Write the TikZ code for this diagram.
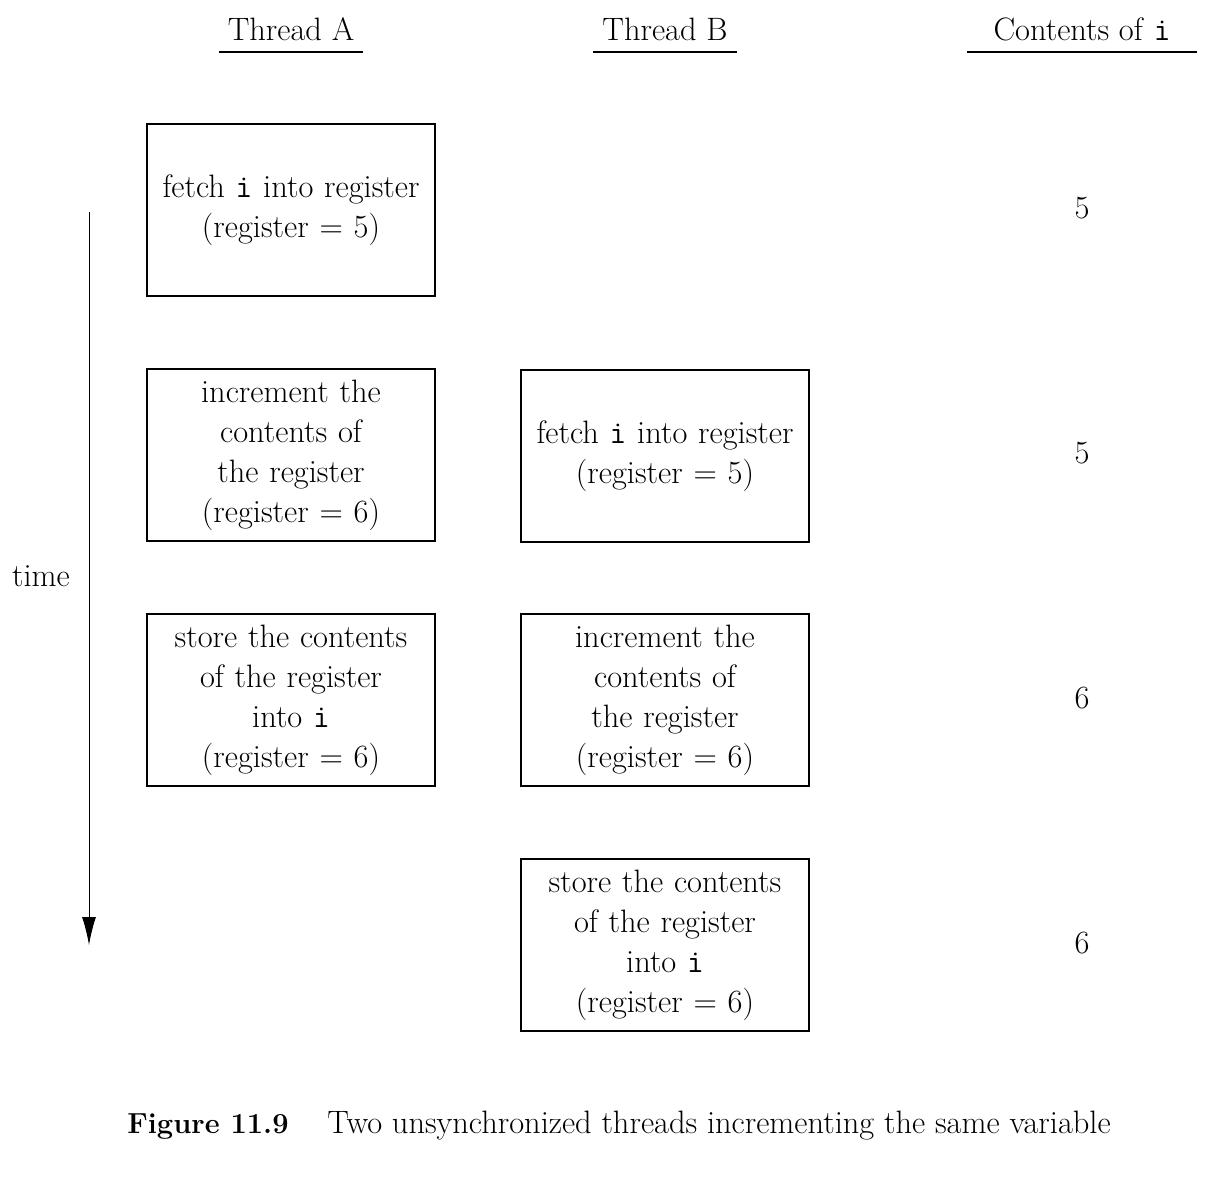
\documentclass[tikz,border=0pt]{standalone}
\usetikzlibrary{arrows.meta}
\begin{document}
\begin{tikzpicture}[x=0.5pt, y=-0.5pt,
   every node/.style={font=\fontsize{16.2}{20}\selectfont},
   stepbox/.style={draw, line width=0.6pt, minimum width=144pt, minimum height=86pt,
                   inner sep=0pt, text width=142pt, align=center},
   head/.style={anchor=base}]
\useasboundingbox (0,0) rectangle (1217,1185);

% column heads
\node[head] (headA) at (291,40) {Thread A};
\node[head] (headB) at (665,40) {Thread B};
\node[head] (headI) at (1082,40) {Contents of \texttt{i}};
\draw[line width=0.6pt] (219,52) -- (363,52);
\draw[line width=0.6pt] (593,52) -- (737,52);
\draw[line width=0.6pt] (967,52) -- (1197,52);

% thread A
\node[stepbox] (a1) at (291,210) {fetch \texttt{i} into register\\(register = 5)};
\node[stepbox] (a2) at (291,455) {increment the\\contents of\\the register\\(register = 6)};
\node[stepbox] (a3) at (291,700) {store the contents\\of the register\\into \texttt{i}\\(register = 6)};

% thread B
\node[stepbox] (b1) at (665,456) {fetch \texttt{i} into register\\(register = 5)};
\node[stepbox] (b2) at (665,700) {increment the\\contents of\\the register\\(register = 6)};
\node[stepbox] (b3) at (665,945) {store the contents\\of the register\\into \texttt{i}\\(register = 6)};

% contents of i
\foreach \v [count=\k] in {5,5,6,6}
   \node (val\k) at (1082, {208+245*(\k-1)}) {\v};

% time axis
\coordinate (tstart) at (89,212);
\coordinate (tend) at (89,945);
\draw[line width=0.5pt, -{Latex[length=14pt,width=7pt]}] (tstart) -- (tend);
\node (time) at (41,576) {time};

% caption
\node[anchor=base west, inner sep=0pt, font=\fontsize{14.5}{20}\selectfont] (fignum) at (127,1133) {\textbf{Figure 11.9}};
\node[anchor=base west, inner sep=0pt] (figtext) at (327,1133) {Two unsynchronized threads incrementing the same variable};
\end{tikzpicture}
\end{document}
